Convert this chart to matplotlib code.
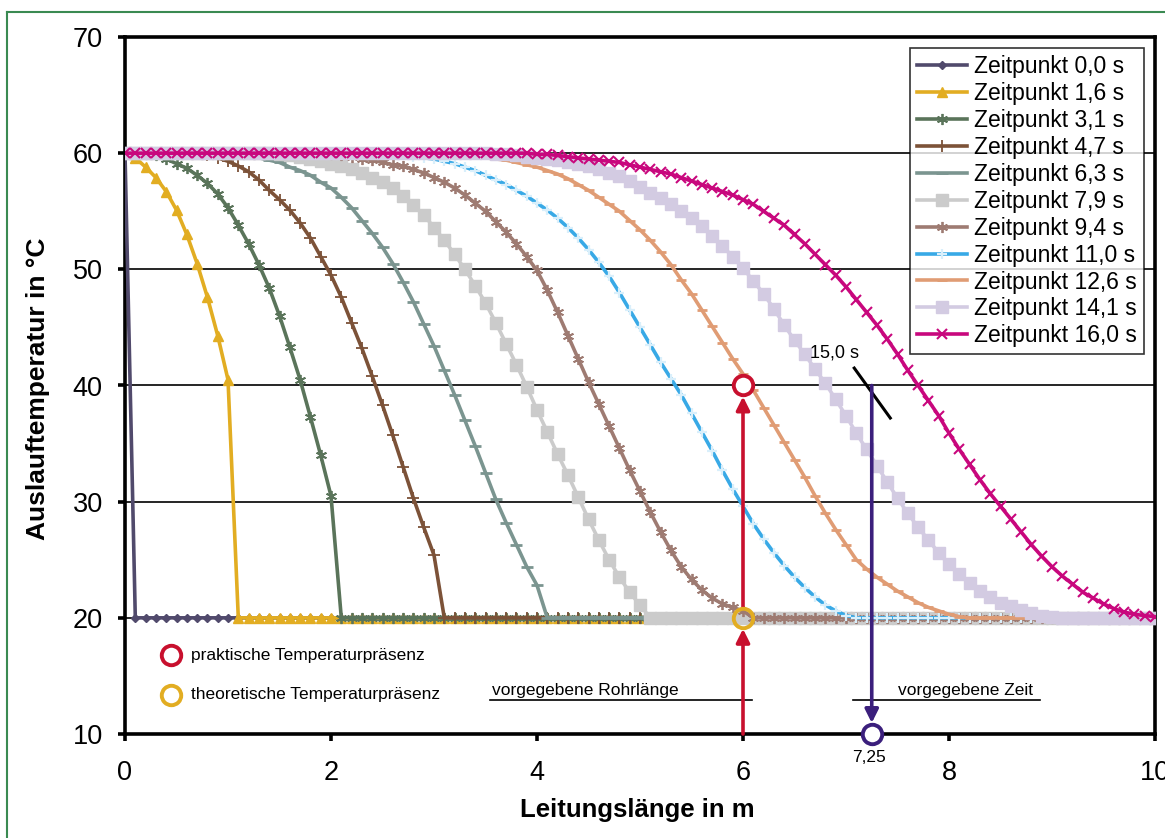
import numpy as np
import matplotlib
matplotlib.use("Agg")
import matplotlib.pyplot as plt
from matplotlib.lines import Line2D

plt.rcParams['font.family'] = ['Liberation Sans', 'DejaVu Sans']

# Leitungslaenge in m, one point every 0.1 m
laenge = np.linspace(0, 10, 101)

labels = ["Zeitpunkt 0,0 s", "Zeitpunkt 1,6 s", "Zeitpunkt 3,1 s", "Zeitpunkt 4,7 s",
          "Zeitpunkt 6,3 s", "Zeitpunkt 7,9 s", "Zeitpunkt 9,4 s", "Zeitpunkt 11,0 s",
          "Zeitpunkt 12,6 s", "Zeitpunkt 14,1 s", "Zeitpunkt 16,0 s"]

t_00 = [60.0] + [20.0] * 100
t_16 = ([60.0, 59.6, 58.8, 57.9, 56.7, 55.1, 53.0, 50.5, 47.6, 44.3, 40.5]
        + [20.0] * 90)
t_31 = ([60.0, 60.0, 59.9, 59.8, 59.5, 59.1, 58.7, 58.1, 57.4, 56.5, 55.3, 53.8,
         52.2, 50.4, 48.4, 46.0, 43.3, 40.5, 37.3, 34.0, 30.5]
        + [20.0] * 80)
t_47 = ([60.0] * 7
        + [59.9, 59.8, 59.6, 59.3, 58.9, 58.4, 57.7, 56.8, 56.0, 55.1, 54.0, 52.7,
           51.1, 49.5, 47.6, 45.4, 43.2, 40.8, 38.3, 35.7, 33.0, 30.3, 27.8, 25.4]
        + [20.0] * 70)
t_63 = ([60.0] * 11
        + [59.9, 59.8, 59.6, 59.4, 59.2, 58.8, 58.5, 58.1, 57.5, 57.0, 56.2, 55.3,
           54.2, 53.1, 51.9, 50.5, 48.9, 47.2, 45.3, 43.4, 41.3, 39.2, 37.0, 34.8,
           32.5, 30.2, 28.2, 26.3, 24.4, 22.8]
        + [20.0] * 60)
t_79 = ([60.0] * 15
        + [59.9, 59.8, 59.7, 59.5, 59.3, 59.1, 58.9, 58.6, 58.3, 57.9, 57.5, 57.0,
           56.3, 55.5, 54.7, 53.6, 52.5, 51.3, 50.0, 48.6, 47.1, 45.4, 43.6, 41.8,
           39.9, 37.9, 36.0, 34.1, 32.3, 30.4, 28.5, 26.7, 25.0, 23.5, 22.2, 21.1]
        + [20.0] * 50)
t_94 = ([60.0] * 20
        + [59.9, 59.8, 59.7, 59.5, 59.4, 59.2, 59.0, 58.9, 58.6, 58.3, 57.9, 57.5,
           57.0, 56.4, 55.7, 55.0, 54.1, 53.2, 52.2, 51.1, 49.9, 48.2, 46.3, 44.3,
           42.3, 40.3, 38.4, 36.5, 34.6, 32.7, 30.9, 29.1, 27.4, 25.8, 24.4, 23.3,
           22.4, 21.7, 21.2, 20.9, 20.6]
        + [20.0] * 40)
t_110 = ([60.0] * 25
         + [59.9, 59.9, 59.8, 59.7, 59.6, 59.5, 59.3, 59.1, 58.8, 58.5, 58.1, 57.7,
            57.3, 56.8, 56.3, 55.7, 55.1, 54.4, 53.6, 52.7, 51.7, 50.6, 49.4, 48.0,
            46.5, 45.0, 43.5, 42.0, 40.6, 39.2, 37.6, 36.0, 34.4, 32.7, 31.1, 29.6,
            28.1, 26.8, 25.6, 24.5, 23.5, 22.6, 21.8, 21.1, 20.6, 20.2]
         + [20.0] * 30)
t_126 = ([60.0] * 31
         + [59.9, 59.9, 59.8, 59.7, 59.6, 59.5, 59.4, 59.2, 59.0, 58.8, 58.5, 58.2,
            57.8, 57.3, 56.8, 56.2, 55.6, 55.0, 54.2, 53.4, 52.5, 51.5, 50.4, 49.1,
            47.9, 46.5, 45.1, 43.7, 42.3, 41.0, 39.6, 38.1, 36.6, 35.1, 33.6, 32.1,
            30.5, 29.0, 27.6, 26.3, 25.0, 24.2, 23.5, 22.9, 22.3, 21.8, 21.3, 20.9,
            20.6, 20.3, 20.1]
         + [20.0] * 19)
t_141 = ([60.0] * 36
         + [59.9, 59.9, 59.8, 59.7, 59.6, 59.5, 59.4, 59.2, 59.1, 58.9, 58.6, 58.3,
            58.0, 57.6, 57.1, 56.6, 56.1, 55.6, 55.0, 54.4, 53.7, 52.9, 52.0, 51.1,
            50.1, 49.0, 47.9, 46.6, 45.2, 43.9, 42.7, 41.4, 40.2, 38.8, 37.4, 35.9,
            34.5, 33.1, 31.7, 30.3, 29.0, 27.8, 26.7, 25.6, 24.6, 23.8, 23.0, 22.3,
            21.8, 21.3, 21.0, 20.7, 20.4, 20.2, 20.1]
         + [20.0] * 10)
t_160 = ([60.0] * 40
         + [59.9, 59.9, 59.8, 59.7, 59.6, 59.5, 59.4, 59.3, 59.2, 59.0, 58.8, 58.6,
            58.4, 58.2, 57.9, 57.6, 57.3, 57.0, 56.7, 56.4, 56.0, 55.6, 55.0, 54.4,
            53.8, 53.0, 52.2, 51.3, 50.4, 49.5, 48.5, 47.4, 46.3, 45.2, 44.0, 42.7,
            41.3, 40.0, 38.7, 37.4, 35.9, 34.5, 33.2, 31.9, 30.7, 29.6, 28.5, 27.4,
            26.3, 25.3, 24.4, 23.6, 22.9, 22.2, 21.7, 21.2, 20.8, 20.5, 20.3, 20.2,
            20.1])

series = [t_00, t_16, t_31, t_47, t_63, t_79, t_94, t_110, t_126, t_141, t_160]

styles = [
    dict(color='#514a6c', marker='D', ms=4.5, mfc='#514a6c', mec='#514a6c'),
    dict(color='#e2ad22', marker='^', ms=7.5, mfc='#e2ad22', mec='#e2ad22'),
    dict(color='#5a745a', marker=(6, 2, 0), ms=8, mfc='#5a745a', mec='#5a745a', mew=1.3),
    dict(color='#7c5238', marker='+', ms=8, mfc='#7c5238', mec='#7c5238', mew=1.3),
    dict(color='#7b9590', marker='_', ms=8, mfc='#7b9590', mec='#7b9590', mew=2),
    dict(color='#cbcbcb', marker='s', ms=8, mfc='#cbcbcb', mec='#cbcbcb'),
    dict(color='#9e7b72', marker=(6, 2, 0), ms=8, mfc='#9e7b72', mec='#9e7b72', mew=1.3),
    dict(color='#38a9e6', marker='+', ms=7, mfc='#d9effb', mec='#d9effb', mew=1.6),
    dict(color='#e09c74', marker='_', ms=7, mfc='#e09c74', mec='#e09c74', mew=2),
    dict(color='#d3cbe2', marker='s', ms=8, mfc='#d3cbe2', mec='#d3cbe2'),
    dict(color='#c8077d', marker='x', ms=7, mfc='#c8077d', mec='#c8077d', mew=1.5),
]

W, H = 1165, 838
fig = plt.figure(figsize=(W / 100, H / 100), dpi=100)
fig.patch.set_facecolor('white')
ax = fig.add_axes([125 / W, 1 - 734 / H, 1030 / W, 697 / H])

for y, lab, st in zip(series, labels, styles):
    ax.plot(laenge, y, lw=2.6, label=lab, zorder=3, **st)

ax.set_xlim(0, 10)
ax.set_ylim(10, 70)
ax.set_xticks(range(0, 11, 2))
ax.set_yticks(range(10, 71, 10))
ax.grid(axis='y', color='black', lw=1.2, zorder=1)
ax.set_axisbelow(True)
for s in ax.spines.values():
    s.set_linewidth(2.6)
ax.tick_params(direction='out', length=5, width=2.6, labelsize=19.5)
ax.tick_params(axis='x', pad=14)
ax.tick_params(axis='y', pad=11)

leg = ax.legend(loc='upper right', fontsize=16.5, frameon=True, fancybox=False,
                edgecolor='black', handlelength=2.2, handletextpad=0.3,
                labelspacing=0.17, borderpad=0.3, borderaxespad=0.5)
leg.get_frame().set_linewidth(1.2)

red = '#c8102e'
yellow = '#e2ad22'
purple = '#3b1f7c'

# pfeile
arrow = dict(arrowstyle='-|>', lw=2.6, mutation_scale=20, shrinkA=0, shrinkB=0)
ax.annotate('', xy=(6.0, 19.05), xytext=(6.0, 10.0),
            arrowprops=dict(color=red, **arrow), zorder=6, annotation_clip=False)
ax.annotate('', xy=(6.0, 39.05), xytext=(6.0, 20.95),
            arrowprops=dict(color=red, **arrow), zorder=6)
ax.annotate('', xy=(7.25, 10.95), xytext=(7.25, 40.0),
            arrowprops=dict(color=purple, **arrow), zorder=6)

circ = dict(marker='o', ms=14, mew=2.8, zorder=7, clip_on=False, ls='none')
ax.plot(6.0, 40, mfc='white', mec=red, **circ)
ax.plot(6.0, 20, mfc='none', mec=yellow, **circ)
ax.plot(7.25, 10, mfc='white', mec=purple, **circ)
ax.plot(0.45, 16.8, mfc='white', mec=red, **circ)
ax.plot(0.45, 13.4, mfc='white', mec=yellow, **circ)

ax.text(0.64, 16.8, 'praktische Temperaturpräsenz', fontsize=12.5, va='center', ha='left')
ax.text(0.64, 13.4, 'theoretische Temperaturpräsenz', fontsize=12.5, va='center', ha='left')

ax.text(3.56, 13.4, 'vorgegebene Rohrlänge', fontsize=12.5, va='baseline', ha='left')
ax.plot([3.54, 6.09], [12.9, 12.9], color='black', lw=1.2, zorder=4)
ax.text(7.5, 13.4, 'vorgegebene Zeit', fontsize=12.5, va='baseline', ha='left')
ax.plot([7.07, 8.88], [12.9, 12.9], color='black', lw=1.2, zorder=4)

ax.text(6.89, 42.8, '15,0 s', fontsize=13, ha='center', va='center')
ax.plot([7.08, 7.43], [41.5, 37.2], color='black', lw=2.2, zorder=5)
ax.text(7.22, 8.0, '7,25', fontsize=12.5, ha='center', va='center')

fig.text(637 / W, 1 - 817 / H, 'Leitungslänge in m', fontsize=18.5,
         fontweight='bold', ha='center', va='baseline')
fig.text(38 / W, 1 - 389 / H, 'Auslauftemperatur in °C', fontsize=19,
         fontweight='bold', ha='center', va='center', rotation=90)

# gruener rahmen
border = '#3a8a52'
fig.add_artist(Line2D([6.5 / W, 6.5 / W], [0, 1 - 12.5 / H], color=border, lw=1.5))
fig.add_artist(Line2D([6.5 / W, 1], [1 - 12.5 / H, 1 - 12.5 / H], color=border, lw=1.5))

fig.savefig('out.png', dpi=100)
